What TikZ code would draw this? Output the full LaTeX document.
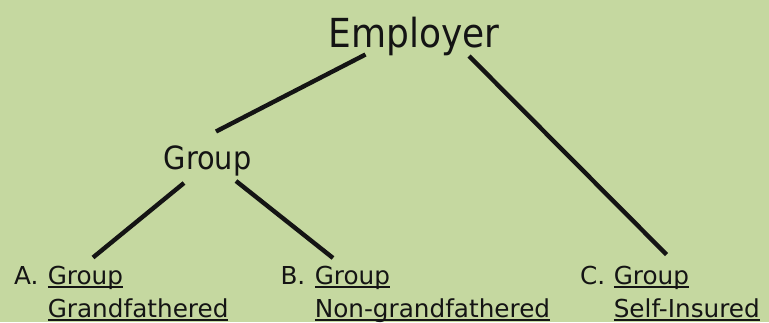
\documentclass[tikz,border=0pt]{standalone}
\usepackage{fontspec}
\setmainfont{DejaVu Sans}
\newfontfamily\condfont{DejaVu Sans Condensed}
\definecolor{slidegreen}{HTML}{C5D8A0}
\definecolor{ink}{HTML}{141414}
% underline that sits just below the baseline, crossing descenders
\newcommand\ulword[1]{\setbox0=\hbox{#1}\rlap{\rule[-3.6pt]{\wd0}{1.5pt}}\box0}

\begin{document}
\begin{tikzpicture}[x=1pt,y=-1pt,
  txt/.style={inner sep=0pt, anchor=base west, text=ink},
  title/.style={txt, font=\condfont\fontsize{40pt}{42pt}\selectfont},
  mid/.style={txt, font=\condfont\fontsize{32pt}{34pt}\selectfont},
  leaf/.style={txt, font=\fontsize{24.7pt}{26pt}\selectfont},
  link/.style={draw=ink, line width=4.4pt}]
\fill[slidegreen] (0,0) rectangle (769,322);
\useasboundingbox (0,0) rectangle (769,322);

% tree labels
\node[title] (emp) at (328.5,47) {Employer};
\node[mid] (grp) at (163.5,169.5) {Group};

\node[leaf] (la) at (14,284) {A.};
\node[leaf] (a1) at (47.6,284) {\ulword{Group}};
\node[leaf] (a2) at (47.6,317) {\ulword{Grandfathered}};

\node[leaf] (lb) at (280.3,284) {B.};
\node[leaf] (b1) at (314.6,284) {\ulword{Group}};
\node[leaf] (b2) at (314.6,317) {\ulword{Non-grandfathered}};

\node[leaf] (lc) at (580,284) {C.};
\node[leaf] (c1) at (613.6,284) {\ulword{Group}};
\node[leaf] (c2) at (613.6,317) {\ulword{Self-Insured}};

% connector end points
\coordinate (empL) at (365.5,54.5);
\coordinate (empR) at (469,56);
\coordinate (grpT) at (216,131.5);
\coordinate (grpL) at (184,183);
\coordinate (grpR) at (236,181);
\coordinate (aT) at (93,257.5);
\coordinate (bT) at (333,258);
\coordinate (cT) at (666.5,254.5);

% connectors
\draw[link] (empL) -- (grpT);
\draw[link] (empR) -- (cT);
\draw[link] (grpL) -- (aT);
\draw[link] (grpR) -- (bT);
\end{tikzpicture}
\end{document}
